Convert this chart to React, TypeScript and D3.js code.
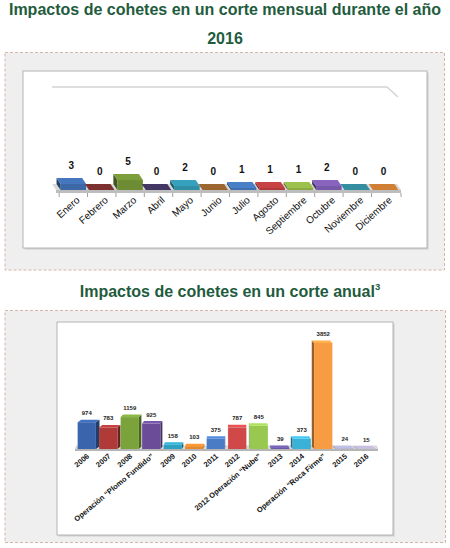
import * as d3 from 'd3';

// Monthly data (2016)
const months = ['Enero', 'Febrero', 'Marzo', 'Abril', 'Mayo', 'Junio', 'Julio', 'Agosto', 'Septiembre', 'Octubre', 'Noviembre', 'Diciembre'];
const monthValues = [3, 0, 5, 0, 2, 0, 1, 1, 1, 2, 0, 0];
const monthColors = ['#3d68a8', '#6e2a2a', '#6e8c34', '#3b3158', '#2f8ea6', '#8a5a2a', '#4070b0', '#b03a3a', '#8aaa44', '#7858a8', '#2e7d8c', '#b8702e'];

// Annual data
const years = ['2006', '2007', '2008', 'Operación “Plomo Fundido”', '2009', '2010', '2011', '2012', '2012 Operación “Nube”', '2013', '2014', 'Operación “Roca Firme”', '2015', '2016'];
const yearValues = [974, 783, 1159, 925, 158, 103, 375, 787, 845, 39, 373, 3852, 24, 15];
const yearColors = ['#3a64ac', '#b03a38', '#7aa33c', '#6a4c98', '#30a0c0', '#e8882c', '#4a7cc6', '#d04848', '#98c850', '#6c5aa6', '#3ab2d8', '#f89c44', '#a8a8cc', '#b0a8c8'];

const W = 450;
const H = 548;
const titleColor = '#1f5c3e';
const font = '"Liberation Sans", Arial, sans-serif';

const pts = (p: number[][]) => p.map(d => d.join(',')).join(' ');

// one 3D bar: front face, side face, top face
const Bar3D = ({ x0, x1, yTop, yBase, dx, dy, color }) => {
  const c = d3.color(color);
  const side = c.darker(1.4).toString();
  const top = c.brighter(0.35).toString();
  const sx = dx > 0 ? x1 : x0;
  return (
    <g>
      {yBase - yTop > 0 && (
        <polygon points={pts([[sx, yTop], [sx + dx, yTop + dy], [sx + dx, yBase + dy], [sx, yBase]])} fill={side} />
      )}
      <rect x={x0} y={yTop} width={x1 - x0} height={Math.max(0, yBase - yTop)} fill={color} />
      <polygon points={pts([[x0, yTop], [x1, yTop], [x1 + dx, yTop + dy], [x0 + dx, yTop + dy]])} fill={top} />
    </g>
  );
};

const MonthlyChart = () => {
  const x = d3.scaleBand().domain(months).range([60, 399]).paddingInner(0.1).paddingOuter(0.02);
  const y = d3.scaleLinear().domain([0, 5]).range([190, 180]);
  const dx = -4;
  const dy = -6;
  const base = y(0);
  const [r0, r1] = x.range();
  const gap = (x.step() - x.bandwidth()) / 2;

  return (
    <g>
      {/* back wall top edge */}
      <path d="M52,87 L387,87 L398,97" fill="none" stroke="#d4d4d4" strokeWidth={1.5} />
      {/* floor */}
      <polygon points={pts([[r0 - 4, base], [r1 + 2, base], [r1 + 2 + dx, base + dy], [r0 - 4 + dx, base + dy]])} fill="#d9d9d9" />
      <polygon points={pts([[r0 - 4, base], [r1 + 2, base], [r1 + 2, base + 3], [r0 - 4, base + 3]])} fill="#bdbdbd" />
      {months.map(m => (
        <line key={'t' + m} x1={x(m) - gap} x2={x(m) - gap} y1={base + 3} y2={base + 7} stroke="#a0a0a0" />
      ))}
      <line x1={r1 + 2} x2={r1 + 2} y1={base + 3} y2={base + 7} stroke="#a0a0a0" />
      {months.map((m, i) => (
        <Bar3D key={m} x0={x(m)} x1={x(m) + x.bandwidth()} yTop={y(monthValues[i])} yBase={base}
          dx={dx} dy={dy} color={monthColors[i]} />
      ))}
      {months.map((m, i) => (
        <text key={'v' + m} x={x(m) + x.bandwidth() / 2 + dx / 2} y={y(monthValues[i]) + dy - 9}
          textAnchor="middle" fontFamily={font} fontWeight="bold" fontSize={10} fill="#111">
          {monthValues[i]}
        </text>
      ))}
      {months.map(m => {
        const cx = x(m) + x.bandwidth() / 2 + 7;
        return (
          <text key={'l' + m} transform={`translate(${cx},${base + 11}) rotate(-42)`} textAnchor="end"
            fontFamily={font} fontSize={10} fill="#111">
            {m}
          </text>
        );
      })}
    </g>
  );
};

const AnnualChart = () => {
  const x = d3.scaleBand().domain(years).range([77, 376]).paddingInner(0.15).paddingOuter(0.03);
  const y = d3.scaleLinear().domain([0, d3.max(yearValues)]).range([449, 343]);
  const base = y(0);
  const dy = -2.5;
  const dxAt = (cx: number) => (230 - cx) * 0.025;
  const [r0, r1] = x.range();

  return (
    <g>
      {/* floor */}
      <polygon points={pts([[r0 - 2, base], [r1 + 2, base], [r1 + 1, base + dy - 1], [r0 - 1, base + dy - 1]])} fill="#d9d9d9" />
      <polygon points={pts([[r0 - 2, base], [r1 + 2, base], [r1 + 2, base + 2], [r0 - 2, base + 2]])} fill="#b5b5b5" />
      {years.map((yr, i) => {
        const cx = x(yr) + x.bandwidth() / 2;
        return (
          <Bar3D key={yr} x0={x(yr)} x1={x(yr) + x.bandwidth()} yTop={y(yearValues[i])} yBase={base}
            dx={dxAt(cx)} dy={dy} color={yearColors[i]} />
        );
      })}
      {years.map((yr, i) => (
        <text key={'v' + yr} x={x(yr) + x.bandwidth() / 2} y={y(yearValues[i]) - 7}
          textAnchor="middle" fontFamily={font} fontWeight="bold" fontSize={6} fill="#222">
          {yearValues[i]}
        </text>
      ))}
      {years.map(yr => {
        const cx = x(yr) + x.bandwidth() / 2 + 3;
        return (
          <text key={'l' + yr} transform={`translate(${cx},${base + 8}) rotate(-40)`} textAnchor="end"
            fontFamily={font} fontWeight="bold" fontSize={7.5} fill="#111">
            {yr}
          </text>
        );
      })}
    </g>
  );
};

const Panel = ({ outer, inner }) => (
  <g>
    <rect x={outer[0]} y={outer[1]} width={outer[2] - outer[0]} height={outer[3] - outer[1]}
      fill="#efefef" stroke="#d6b4a6" strokeDasharray="3,2" />
    <rect x={inner[0] + 1.5} y={inner[1] + 1.5} width={inner[2] - inner[0]} height={inner[3] - inner[1]} fill="#cfcfcf" />
    <rect x={inner[0]} y={inner[1]} width={inner[2] - inner[0]} height={inner[3] - inner[1]}
      fill="#ffffff" stroke="#b4b4b4" />
  </g>
);

export default function App() {
  return (
    <div style={{ position: 'absolute', left: 0, top: 0 }}>
      <svg width={W} height={H} viewBox={`0 0 ${W} ${H}`} style={{ display: 'block', background: '#fff' }}>
        <text x={W / 2} y={15} textAnchor="middle" fontFamily={font} fontWeight="bold" fontSize={16} fill={titleColor}>
          Impactos de cohetes en un corte mensual durante el año
        </text>
        <text x={W / 2} y={43.5} textAnchor="middle" fontFamily={font} fontWeight="bold" fontSize={16} fill={titleColor}>
          2016
        </text>
        <Panel outer={[5, 52.5, 444.5, 270]} inner={[23, 71, 427, 248]} />
        <MonthlyChart />

        <text x={230} y={296.5} textAnchor="middle" fontFamily={font} fontWeight="bold" fontSize={16} fill={titleColor}>
          Impactos de cohetes en un corte anual
          <tspan fontSize={9.5} dy={-7}>3</tspan>
        </text>
        <Panel outer={[5, 310.5, 445.5, 542.5]} inner={[57, 322, 393, 535]} />
        <AnnualChart />
      </svg>
    </div>
  );
}
